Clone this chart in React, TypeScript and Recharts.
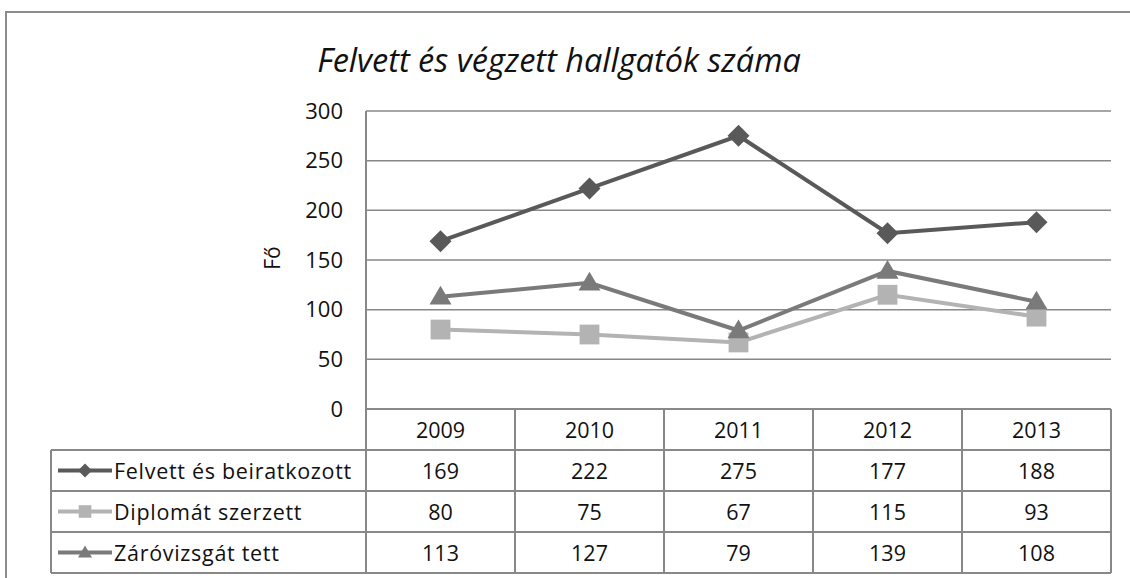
import React from 'react';
import { LineChart, Line, XAxis, YAxis, CartesianGrid } from 'recharts';

const years = ['2009', '2010', '2011', '2012', '2013'];
const felvett = [169, 222, 275, 177, 188];
const diploma = [80, 75, 67, 115, 93];
const zarovizsga = [113, 127, 79, 139, 108];
const yTicks = [0, 50, 100, 150, 200, 250, 300];

const seriesNames = ['Felvett és beiratkozott', 'Diplomát szerzett', 'Záróvizsgát tett'];
const seriesKeys = ['felvett', 'diploma', 'zarovizsga'];
const seriesColors = ['#595959', '#b3b3b3', '#7a7a7a'];
const seriesShapes = ['diamond', 'square', 'triangle'];

const data = years.map((year, i) => ({
  year,
  felvett: felvett[i],
  diploma: diploma[i],
  zarovizsga: zarovizsga[i],
}));

const W = 1130;
const H = 578;
const PLOT_LEFT = 366;
const PLOT_RIGHT = 1111;
const PLOT_TOP = 111;
const PLOT_BOTTOM = 409;
const BAND = (PLOT_RIGHT - PLOT_LEFT) / years.length;
const ROW_H = 41;
const TABLE_LEFT = 51;
const GRID = '#888888';
const FONT = '"Open Sans", Lato, sans-serif';
const TABLE_FS = 21.5;

const Marker = ({ cx, cy, shape, color, s }: any) => {
  if (cx == null || cy == null) return null;
  if (shape === 'diamond') {
    return <polygon points={`${cx},${cy - s} ${cx + s},${cy} ${cx},${cy + s} ${cx - s},${cy}`} fill={color} />;
  }
  if (shape === 'square') {
    const h = s * 0.9;
    return <rect x={cx - h} y={cy - h} width={h * 2} height={h * 2} fill={color} />;
  }
  return <polygon points={`${cx},${cy - s} ${cx + s},${cy + s * 0.7} ${cx - s},${cy + s * 0.7}`} fill={color} />;
};

const seriesValues = [felvett, diploma, zarovizsga];

const TableTick = (props: any) => {
  const { x, y, payload } = props;
  const i = payload.index;
  const left = x - BAND / 2;
  const right = x + BAND / 2;
  const bottom = y + ROW_H * 4;
  const els: React.ReactNode[] = [];
  els.push(<line key="vl" x1={left} y1={y} x2={left} y2={bottom} stroke={GRID} strokeWidth={2} />);
  if (i === years.length - 1) {
    els.push(<line key="vr" x1={right} y1={y} x2={right} y2={bottom} stroke={GRID} strokeWidth={2} />);
  }
  for (let r = 1; r <= 4; r++) {
    els.push(<line key={'h' + r} x1={left} y1={y + ROW_H * r} x2={right} y2={y + ROW_H * r} stroke={GRID} strokeWidth={2} />);
  }
  els.push(
    <text key="yr" x={x} y={y + ROW_H / 2} textAnchor="middle" dominantBaseline="central" fontSize={TABLE_FS} fill="#111" fontFamily={FONT}>
      {payload.value}
    </text>
  );
  seriesValues.forEach((vals, r) => {
    els.push(
      <text key={'v' + r} x={x} y={y + ROW_H * (r + 1.5)} textAnchor="middle" dominantBaseline="central" fontSize={TABLE_FS} fill="#111" fontFamily={FONT}>
        {vals[i]}
      </text>
    );
  });
  if (i === 0) {
    els.push(<line key="tl" x1={TABLE_LEFT} y1={y + ROW_H} x2={TABLE_LEFT} y2={bottom} stroke={GRID} strokeWidth={2} />);
    for (let r = 1; r <= 4; r++) {
      els.push(<line key={'lh' + r} x1={TABLE_LEFT} y1={y + ROW_H * r} x2={left} y2={y + ROW_H * r} stroke={GRID} strokeWidth={2} />);
    }
    seriesNames.forEach((name, r) => {
      const cy = y + ROW_H * (r + 1.5);
      els.push(<line key={'ll' + r} x1={TABLE_LEFT + 7} y1={cy} x2={TABLE_LEFT + 61} y2={cy} stroke={seriesColors[r]} strokeWidth={4} />);
      els.push(<Marker key={'lm' + r} cx={TABLE_LEFT + 34} cy={cy} shape={seriesShapes[r]} color={seriesColors[r]} s={7} />);
      els.push(
        <text key={'ln' + r} x={TABLE_LEFT + 63} y={cy} dominantBaseline="central" fontSize={TABLE_FS} letterSpacing={0.7} fill="#111" fontFamily={FONT}>
          {name}
        </text>
      );
    });
  }
  return <g>{els}</g>;
};

const YLabel = (props: any) => {
  const { viewBox } = props;
  const cx = viewBox.x - 34;
  const cy = viewBox.y + viewBox.height / 2 - 2;
  return (
    <text x={cx} y={cy} transform={`rotate(-90, ${cx}, ${cy})`} textAnchor="middle" dominantBaseline="central" fontSize={21} fill="#111" fontFamily={FONT}>
      Fő
    </text>
  );
};

export default function App() {
  return (
    <div style={{ position: 'absolute', left: 0, top: 0, width: W, height: H, background: '#fff', overflow: 'hidden' }}>
      <div style={{ position: 'absolute', left: 5, top: 11, width: W, height: H, border: '2px solid #8c8c8c', boxSizing: 'border-box' }} />
      <div style={{ position: 'absolute', left: 0, top: 37, width: 1118, textAlign: 'center', fontFamily: FONT, fontStyle: 'italic', fontSize: 32.5, color: '#111' }}>
        Felvett és végzett hallgatók száma
      </div>
      <div style={{ position: 'absolute', left: 0, top: 0 }}>
        <LineChart width={W} height={H} data={data} margin={{ top: PLOT_TOP, right: W - PLOT_RIGHT, left: PLOT_LEFT - 60, bottom: 0 }}>
          <CartesianGrid horizontal vertical={false} stroke={GRID} strokeWidth={1.5} />
          <XAxis
            dataKey="year"
            height={H - PLOT_BOTTOM}
            axisLine={{ stroke: GRID, strokeWidth: 2 }}
            tickLine={false}
            tickSize={0}
            tickMargin={0}
            interval={0}
            padding={{ left: BAND / 2, right: BAND / 2 }}
            tick={<TableTick />}
          />
          <YAxis
            width={60}
            domain={[0, 300]}
            ticks={yTicks}
            axisLine={{ stroke: GRID, strokeWidth: 2 }}
            tickLine={false}
            tickSize={0}
            tickMargin={23}
            tick={{ fontSize: 22, fill: '#111', fontFamily: FONT }}
            label={<YLabel />}
          />
          {seriesKeys.map((k, idx) => (
            <Line
              key={k}
              type="linear"
              dataKey={k}
              stroke={seriesColors[idx]}
              strokeWidth={4}
              isAnimationActive={false}
              dot={(p: any) => <Marker key={k + p.index} cx={p.cx} cy={p.cy} shape={seriesShapes[idx]} color={seriesColors[idx]} s={11} />}
              activeDot={false}
            />
          ))}
        </LineChart>
      </div>
    </div>
  );
}
